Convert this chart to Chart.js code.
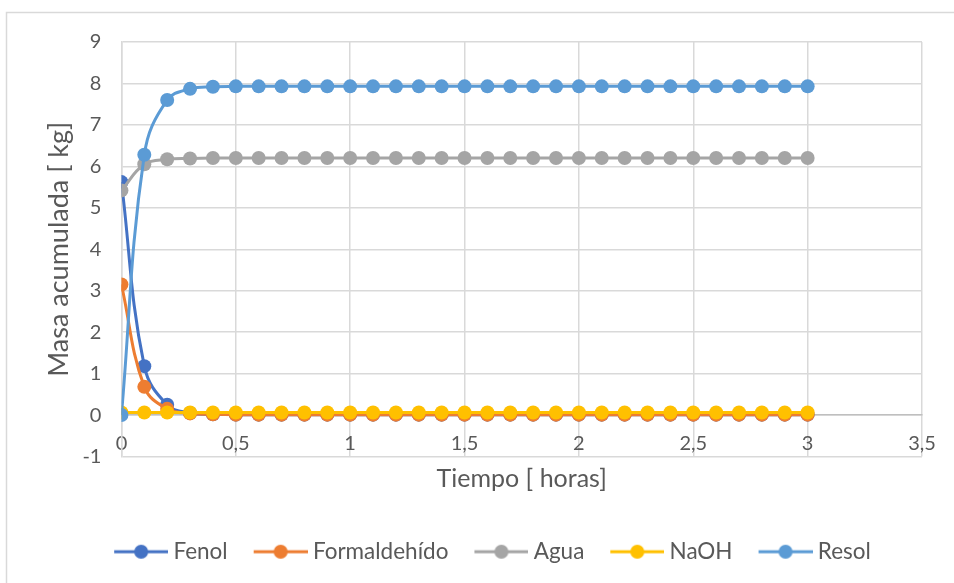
<!DOCTYPE html>
<html>
<head>
<meta charset="utf-8">
<script src="https://cdn.jsdelivr.net/npm/chart.js@4"></script>
<style>
  html, body { margin: 0; padding: 0; background: #fff; }
  #wrap { width: 954px; height: 583px; }
</style>
</head>
<body>
<div id="wrap"><canvas id="grafico" width="954" height="583"></canvas></div>
<script>
const tiempo = [0, 0.1, 0.2, 0.3, 0.4, 0.5, 0.6, 0.7, 0.8, 0.9, 1, 1.1, 1.2, 1.3, 1.4, 1.5,
  1.6, 1.7, 1.8, 1.9, 2, 2.1, 2.2, 2.3, 2.4, 2.5, 2.6, 2.7, 2.8, 2.9, 3];

const fenol = [5.62, 1.18, 0.25, 0.05, 0.02, 0.01, 0.01, 0.01, 0.01, 0.01, 0.01, 0.01, 0.01, 0.01, 0.01, 0.01,
  0.01, 0.01, 0.01, 0.01, 0.01, 0.01, 0.01, 0.01, 0.01, 0.01, 0.01, 0.01, 0.01, 0.01, 0.01];
const formaldehido = [3.15, 0.68, 0.15, 0.04, 0.02, 0.01, 0.01, 0.01, 0.01, 0.01, 0.01, 0.01, 0.01, 0.01, 0.01, 0.01,
  0.01, 0.01, 0.01, 0.01, 0.01, 0.01, 0.01, 0.01, 0.01, 0.01, 0.01, 0.01, 0.01, 0.01, 0.01];
const agua = [5.42, 6.05, 6.17, 6.19, 6.2, 6.2, 6.2, 6.2, 6.2, 6.2, 6.2, 6.2, 6.2, 6.2, 6.2, 6.2,
  6.2, 6.2, 6.2, 6.2, 6.2, 6.2, 6.2, 6.2, 6.2, 6.2, 6.2, 6.2, 6.2, 6.2, 6.2];
const naoh = [0.06, 0.06, 0.06, 0.06, 0.06, 0.06, 0.06, 0.06, 0.06, 0.06, 0.06, 0.06, 0.06, 0.06, 0.06, 0.06,
  0.06, 0.06, 0.06, 0.06, 0.06, 0.06, 0.06, 0.06, 0.06, 0.06, 0.06, 0.06, 0.06, 0.06, 0.06];
const resol = [0, 6.28, 7.6, 7.87, 7.92, 7.93, 7.93, 7.93, 7.93, 7.93, 7.93, 7.93, 7.93, 7.93, 7.93, 7.93,
  7.93, 7.93, 7.93, 7.93, 7.93, 7.93, 7.93, 7.93, 7.93, 7.93, 7.93, 7.93, 7.93, 7.93, 7.93];

const yTicks = [-1, 0, 1, 2, 3, 4, 5, 6, 7, 8, 9];
const xTicks = [0, 0.5, 1, 1.5, 2, 2.5, 3, 3.5];

const series = [
  { label: 'Fenol', values: fenol, color: '#4472C4' },
  { label: 'Formaldehído', values: formaldehido, color: '#ED7D31' },
  { label: 'Agua', values: agua, color: '#A5A5A5' },
  { label: 'NaOH', values: naoh, color: '#FFC000' },
  { label: 'Resol', values: resol, color: '#5B9BD5' }
];

const fuente = 'Lato, "Open Sans", sans-serif';
const gris = '#595959';

// icono de la leyenda: linea con punto, como en Excel
function icono(color) {
  const c = document.createElement('canvas');
  c.width = 66; c.height = 16;
  const g = c.getContext('2d');
  g.strokeStyle = color; g.lineWidth = 3;
  g.beginPath(); g.moveTo(12, 8); g.lineTo(66, 8); g.stroke();
  g.fillStyle = color;
  g.beginPath(); g.arc(39, 8, 7, 0, Math.PI * 2); g.fill();
  return c;
}

const borde = {
  id: 'borde',
  beforeDraw(chart) {
    const g = chart.ctx;
    g.save();
    g.strokeStyle = '#d9d9d9';
    g.lineWidth = 1.5;
    g.beginPath();
    g.moveTo(6.5, 583); g.lineTo(6.5, 12.5); g.lineTo(954, 12.5);
    g.stroke();
    g.restore();
  }
};

const ctx = document.getElementById('grafico').getContext('2d');

new Chart(ctx, {
  type: 'line',
  data: {
    datasets: series.map((s, i) => ({
      label: s.label,
      data: tiempo.map((t, j) => ({ x: t, y: s.values[j] })),
      order: series.length - i, // la ultima serie queda encima
      borderColor: s.color,
      backgroundColor: s.color,
      pointBackgroundColor: s.color,
      pointBorderColor: s.color,
      borderWidth: 3,
      pointRadius: 7,
      pointBorderWidth: 0,
      tension: 0.4,
      fill: false
    }))
  },
  plugins: [borde],
  options: {
    responsive: false,
    animation: false,
    layout: { padding: { left: 57, right: 32, top: 42, bottom: 10 } },
    plugins: {
      tooltip: { enabled: false },
      // titulo del eje x, entre el grafico y la leyenda
      title: {
        display: true,
        position: 'bottom',
        fullSize: false,
        weight: 500,
        text: 'Tiempo [ horas]',
        color: gris,
        font: { family: fuente, size: 25, weight: 'normal' },
        padding: { top: 7, bottom: 27 }
      },
      legend: {
        position: 'bottom',
        labels: {
          usePointStyle: true,
          pointStyleWidth: 54,
          boxHeight: 16,
          padding: 20,
          color: gris,
          font: { family: fuente, size: 22.5 },
          generateLabels(chart) {
            const items = Chart.defaults.plugins.legend.labels.generateLabels(chart);
            items.sort((a, b) => a.datasetIndex - b.datasetIndex);
            items.forEach(it => { it.pointStyle = icono(series[it.datasetIndex].color); });
            return items;
          }
        }
      }
    },
    scales: {
      x: {
        type: 'linear',
        position: { y: 0 },
        min: 0,
        max: 3.5,
        afterBuildTicks: sc => { sc.ticks = xTicks.map(v => ({ value: v })); },
        ticks: {
          color: gris,
          font: { family: fuente, size: 20 },
          maxRotation: 0,
          padding: 16,
          callback: v => String(v).replace('.', ',')
        },
        grid: { color: '#d9d9d9', lineWidth: 1.5, drawTicks: false },
        border: { color: '#bfbfbf', width: 1.5 }
      },
      y: {
        min: -1,
        max: 9,
        afterBuildTicks: sc => { sc.ticks = yTicks.map(v => ({ value: v })); },
        ticks: {
          color: gris,
          font: { family: fuente, size: 20 },
          padding: 20
        },
        grid: { color: '#d9d9d9', lineWidth: 1.5, drawTicks: false },
        border: { color: '#d9d9d9', width: 1.5 },
        title: {
          display: true,
          text: 'Masa acumulada [ kg]',
          color: gris,
          font: { family: fuente, size: 27, lineHeight: 0.2 },
          padding: 0
        }
      }
    }
  }
});
</script>
</body>
</html>
